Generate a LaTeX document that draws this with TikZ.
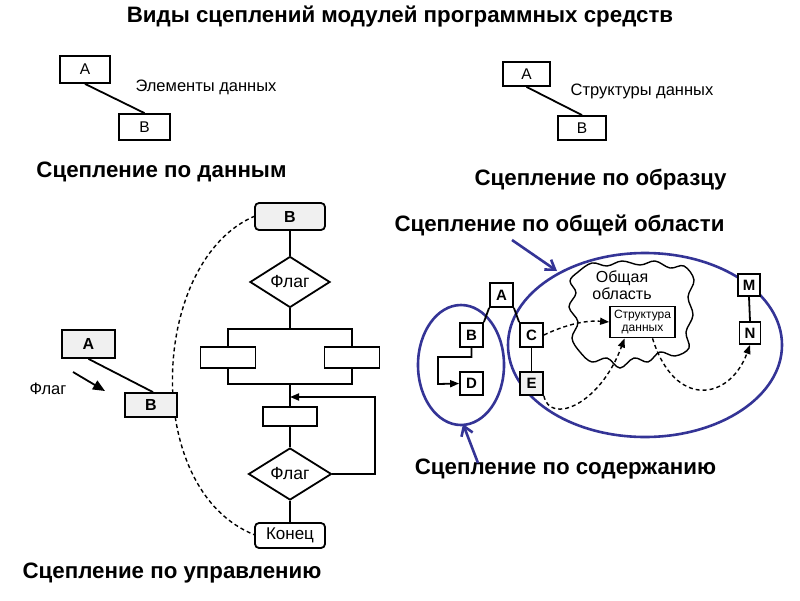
\documentclass[tikz,border=0pt]{standalone}
\usepackage{fontspec}
\setmainfont{Liberation Sans}
\usetikzlibrary{shapes.geometric,arrows.meta}
\definecolor{navy}{RGB}{52,52,150}
\begin{document}
\begin{tikzpicture}[x=1pt,y=-1pt,
 box/.style={draw,line width=1.8pt,inner sep=0,fill=white,font=\fontsize{15.5}{15}\selectfont},
 sbox/.style={box,fill=gray!12},
 ttl/.style={font=\bfseries\fontsize{22.3}{22}\selectfont,inner sep=0},
 lbl/.style={font=\fontsize{16.5}{16}\selectfont,inner sep=0},
 ln/.style={line width=1.8pt},
 dsh/.style={line width=1.4pt,dash pattern=on 4pt off 3pt},
 tip/.style={-{Triangle[length=9pt,width=7pt]}},
 bl/.style={draw=navy,line width=2.6pt},
 blarrow/.style={navy,line width=2.6pt,-{Straight Barb[length=9pt,width=12pt]}}]
\useasboundingbox (0,0) rectangle (800,600);
% title
\node[ttl] (title) at (400,17) {Виды сцеплений модулей программных средств};
% data coupling
\node[box,minimum width=50,minimum height=27] (a1) at (85,69.5) {A};
\node[box,minimum width=51,minimum height=26] (b1) at (144.5,127) {B};
\draw[ln] (a1.south) -- (b1.north);
\node[lbl] (t1) at (206,87) {Элементы данных};
\node[ttl] (s1) at (161.5,172) {Сцепление по данным};
% stamp coupling
\node[box,minimum width=47,minimum height=24] (a2) at (526.5,74) {A};
\node[box,minimum width=48,minimum height=24] (b2) at (582,128) {B};
\draw[ln] (a2.south) -- (b2.north);
\node[lbl] (t2) at (642,91) {Структуры данных};
\node[ttl] (s2) at (600.5,180) {Сцепление по образцу};
% control coupling
\coordinate (arcS) at (255,216);
\coordinate (arcE) at (255,535);
\draw[dsh] (arcS) .. controls (150,260) and (140,490) .. (arcE);
\node[sbox,rounded corners=4,minimum width=70,minimum height=27,font=\bfseries\fontsize{16}{16}\selectfont] (bt) at (290,216.5) {B};
\node[box,diamond,aspect=1.6,minimum width=80,minimum height=51,font=\fontsize{17.5}{17}\selectfont] (d1) at (290,282) {Флаг};
\node[box,fill=none,minimum width=124,minimum height=55] (par) at (290,356.5) {};
\node[box,minimum width=55,minimum height=21] (pl) at (228,357.5) {};
\node[box,minimum width=55,minimum height=21] (pr) at (352,357.5) {};
\node[box,minimum width=54,minimum height=19] (r3) at (290,416.5) {};
\node[box,diamond,aspect=1.6,minimum width=83,minimum height=52,font=\fontsize{17.5}{17}\selectfont] (d2) at (290,474) {Флаг};
\node[box,rounded corners=4,minimum width=70,minimum height=25,font=\fontsize{17}{17}\selectfont] (ko) at (290,535.5) {Конец};
\draw[ln] (bt.south) -- (d1.north);
\draw[ln] (d1.south) -- (par.north);
\draw[ln] (par.south) -- (r3.north);
\draw[ln] (r3.south) -- (d2.north);
\draw[ln] (d2.south) -- (ko.north);
\coordinate (lp) at (290,397);
\draw[ln,tip] (d2.east) -- (375,474) |- (lp);
\node[sbox,minimum width=53,minimum height=28,font=\bfseries\fontsize{16}{16}\selectfont] (a3) at (88.5,344) {A};
\node[sbox,minimum width=52,minimum height=24,font=\bfseries\fontsize{16}{16}\selectfont] (b3) at (151,405) {B};
\draw[ln] (a3.south) -- ([xshift=2]b3.north);
\node[lbl] (fl) at (48,389) {Флаг};
\coordinate (f1) at (73,372);
\coordinate (f2) at (105,391);
\draw[line width=1.8pt,-{Triangle[length=12pt,width=10pt]}] (f1) -- (f2);
\node[ttl] (s3) at (172,573) {Сцепление по управлению};
% common & content coupling
\node[ttl] (s4) at (559.5,225) {Сцепление по общей области};
\node[ttl] (s5) at (565.5,469) {Сцепление по содержанию};
\draw[bl] (645,345) ellipse [x radius=137,y radius=92];
\draw[bl] (461,365) ellipse [x radius=43,y radius=60];
\coordinate (ba1) at (512,240);
\coordinate (ba2) at (557,271);
\draw[blarrow] (ba1) -- (ba2);
\coordinate (bb1) at (478,463);
\coordinate (bb2) at (463,424);
\draw[blarrow] (bb1) -- (bb2);
% cloud
\draw[line width=1.4pt,fill=white] plot[smooth cycle,tension=0.6] coordinates {
(578,272) (592,263) (607,266) (622,261) (640,265) (655,261) (670,268) (684,266)
(694,280) (688,297) (693,315) (686,332) (689,348) (675,356) (660,352) (648,362)
(634,358) (620,368) (607,358) (592,362) (580,352) (572,338) (578,322) (569,307)
(576,293) (570,281)};
\node[font=\fontsize{16}{17}\selectfont,align=center,inner sep=0] (ob) at (622,285) {Общая\\область};
\node[box,minimum width=65,minimum height=31,font=\fontsize{12}{12.5}\selectfont,align=center] (sd) at (642.5,322) {Структура\\данных};
\node[box,minimum width=23,minimum height=24,font=\bfseries\fontsize{15}{15}\selectfont] (ca) at (501.5,295) {A};
\node[box,minimum width=23,minimum height=24,font=\bfseries\fontsize{15}{15}\selectfont] (cb) at (471.5,335) {B};
\node[box,minimum width=23,minimum height=24,font=\bfseries\fontsize{15}{15}\selectfont] (cc) at (531.5,335) {C};
\node[box,minimum width=23,minimum height=23,font=\bfseries\fontsize{15}{15}\selectfont] (cd) at (471.5,383.5) {D};
\node[sbox,minimum width=23,minimum height=23,font=\bfseries\fontsize{15}{15}\selectfont] (ce) at (531.5,383.5) {E};
\node[box,minimum width=22,minimum height=22,font=\bfseries\fontsize{15}{15}\selectfont] (cm) at (749,285) {M};
\node[box,minimum width=21,minimum height=22,font=\bfseries\fontsize{15}{15}\selectfont] (cn) at (750,333) {N};
\draw[ln] (ca.south west) -- (cb.north east);
\draw[ln] (ca.south east) -- (cc.north west);
\draw[ln] (cc.south) -- (ce.north);
\draw[ln] (cm.south) -- (cn.north);
\draw[ln,tip] (cb.south) -- ++(0,9) -| (438,384) -- (cd.west);
\draw[dsh,tip] (cc.east) .. controls (565,325) and (585,320) .. (sd.west);
\draw[dsh,tip] (ce.south east) .. controls (550,425) and (600,405) .. ([xshift=-18]sd.south);
\draw[dsh,tip] ([xshift=10]sd.south) .. controls (675,410) and (730,400) .. (cn.south);
\end{tikzpicture}
\end{document}
